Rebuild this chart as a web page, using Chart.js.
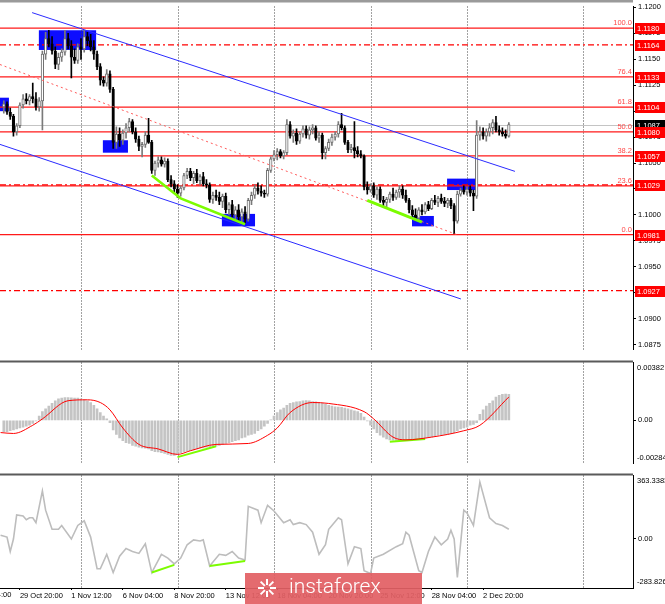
<!DOCTYPE html>
<html>
<head>
<meta charset="utf-8">
<script src="https://cdn.jsdelivr.net/npm/chart.js@4.4.1/dist/chart.umd.min.js"></script>
<style>
  html, body { margin: 0; padding: 0; background: #fff; }
  #wrap { position: relative; width: 665px; height: 604px; overflow: hidden; }
  canvas { position: absolute; left: 0; }
</style>
</head>
<body>
<div id="wrap">
  <canvas id="main" width="665" height="356" style="top:0"></canvas>
  <canvas id="macd" width="665" height="114" style="top:356px"></canvas>
  <canvas id="cci" width="665" height="135" style="top:469px"></canvas>
</div>
<script>
// EURUSD H4, bar 0 .. 157
const OPEN = [
  1.1104,1.1107,1.1099,1.1095,1.1080,1.1086,1.1106,1.1112,1.1110,1.1114,
  1.1112,1.1104,1.1110,1.1155,1.1170,1.1165,1.1158,1.1145,1.1152,1.1157,
  1.1170,1.1163,1.1152,1.1149,1.1162,1.1160,1.1172,1.1168,1.1162,1.1155,
  1.1143,1.1130,1.1127,1.1136,1.1121,1.1070,1.1078,1.1072,1.1079,1.1084,
  1.1090,1.1080,1.1073,1.1066,1.1068,1.1077,1.1070,1.1043,1.1050,1.1053,
  1.1049,1.1052,1.1034,1.1030,1.1025,1.1021,1.1026,1.1038,1.1042,1.1036,
  1.1040,1.1033,1.1037,1.1030,1.1029,1.1015,1.1019,1.1017,1.1013,1.1018,
  1.1005,1.1010,1.1000,1.1005,1.0998,1.1003,1.0996,1.1014,1.1019,1.1026,
  1.1023,1.1021,1.1020,1.1043,1.1054,1.1058,1.1061,1.1057,1.1060,1.1087,
  1.1076,1.1079,1.1071,1.1078,1.1083,1.1077,1.1082,1.1084,1.1074,1.1077,
  1.1060,1.1064,1.1070,1.1075,1.1078,1.1087,1.1084,1.1070,1.1063,1.1065,
  1.1062,1.1059,1.1057,1.1027,1.1024,1.1028,1.1019,1.1025,1.1014,1.1012,
  1.1015,1.1020,1.1017,1.1022,1.1025,1.1019,1.1014,1.1005,1.1000,1.0997,
  1.1005,1.1003,1.1010,1.1006,1.1014,1.1012,1.1016,1.1013,1.1011,1.1014,
  1.1009,1.0994,1.1020,1.1024,1.1022,1.1025,1.1021,1.1018,1.1077,1.1080,
  1.1076,1.1080,1.1084,1.1089,1.1082,1.1080,1.1078,1.1076
];
const HIGH = [
  1.1110,1.1109,1.1103,1.1097,1.1088,1.1108,1.1116,1.1117,1.1116,1.1127,
  1.1118,1.1113,1.1158,1.1176,1.1178,1.1172,1.1162,1.1156,1.1160,1.1178,
  1.1175,1.1168,1.1160,1.1165,1.1170,1.1178,1.1176,1.1174,1.1168,1.1158,
  1.1146,1.1133,1.1140,1.1139,1.1123,1.1085,1.1084,1.1082,1.1088,1.1093,
  1.1092,1.1084,1.1076,1.1070,1.1080,1.1093,1.1072,1.1052,1.1056,1.1056,
  1.1055,1.1054,1.1038,1.1033,1.1029,1.1028,1.1040,1.1045,1.1045,1.1042,
  1.1044,1.1039,1.1041,1.1034,1.1031,1.1022,1.1024,1.1022,1.1020,1.1021,
  1.1012,1.1014,1.1008,1.1010,1.1006,1.1008,1.1016,1.1022,1.1029,1.1031,
  1.1028,1.1024,1.1045,1.1056,1.1062,1.1064,1.1063,1.1062,1.1092,1.1090,
  1.1082,1.1083,1.1080,1.1086,1.1086,1.1085,1.1087,1.1086,1.1080,1.1079,
  1.1066,1.1073,1.1078,1.1080,1.1090,1.1098,1.1086,1.1072,1.1068,1.1090,
  1.1066,1.1062,1.1058,1.1032,1.1030,1.1031,1.1027,1.1027,1.1018,1.1017,
  1.1022,1.1026,1.1024,1.1028,1.1028,1.1024,1.1016,1.1009,1.1006,1.1007,
  1.1010,1.1012,1.1013,1.1016,1.1019,1.1018,1.1020,1.1017,1.1016,1.1016,
  1.1011,1.1023,1.1026,1.1028,1.1027,1.1028,1.1024,1.1091,1.1085,1.1084,
  1.1083,1.1088,1.1092,1.1095,1.1086,1.1084,1.1082,1.1089
];
const LOW = [
  1.1098,1.1097,1.1092,1.1076,1.1077,1.1084,1.1103,1.1107,1.1106,1.1108,
  1.1101,1.1100,1.1082,1.1150,1.1162,1.1155,1.1141,1.1140,1.1148,1.1154,
  1.1160,1.1132,1.1146,1.1146,1.1150,1.1157,1.1163,1.1158,1.1150,1.1140,
  1.1125,1.1124,1.1124,1.1118,1.1064,1.1064,1.1066,1.1068,1.1074,1.1080,
  1.1078,1.1070,1.1062,1.1056,1.1065,1.1069,1.1040,1.1038,1.1046,1.1047,
  1.1046,1.1032,1.1027,1.1022,1.1017,1.1018,1.1024,1.1035,1.1033,1.1030,
  1.1031,1.1029,1.1028,1.1026,1.1012,1.1011,1.1014,1.1010,1.1007,1.1002,
  1.1000,1.0998,1.0996,1.0994,1.0992,1.0992,1.0994,1.1010,1.1016,1.1020,
  1.1018,1.1017,1.1018,1.1041,1.1052,1.1053,1.1055,1.1054,1.1058,1.1074,
  1.1070,1.1068,1.1069,1.1075,1.1074,1.1073,1.1078,1.1072,1.1070,1.1054,
  1.1054,1.1062,1.1067,1.1072,1.1075,1.1082,1.1068,1.1060,1.1060,1.1055,
  1.1056,1.1055,1.1024,1.1020,1.1022,1.1017,1.1015,1.1012,1.1008,1.1007,
  1.1012,1.1014,1.1015,1.1017,1.1016,1.1012,1.1002,1.0998,1.0996,1.0995,
  1.1000,1.1001,1.1004,1.1005,1.1010,1.1008,1.1011,1.1008,1.1007,1.1006,
  1.0982,1.0992,1.1018,1.1020,1.1019,1.1018,1.1004,1.1016,1.1072,1.1073,
  1.1071,1.1076,1.1078,1.1080,1.1077,1.1076,1.1074,1.1075
];
const CLOSE = [
  1.1107,1.1099,1.1095,1.1080,1.1086,1.1106,1.1112,1.1110,1.1114,1.1112,
  1.1104,1.1110,1.1155,1.1170,1.1165,1.1158,1.1145,1.1152,1.1157,1.1170,
  1.1163,1.1152,1.1149,1.1162,1.1160,1.1172,1.1168,1.1162,1.1155,1.1143,
  1.1130,1.1127,1.1136,1.1121,1.1070,1.1078,1.1072,1.1079,1.1084,1.1090,
  1.1080,1.1073,1.1066,1.1068,1.1077,1.1070,1.1043,1.1050,1.1053,1.1049,
  1.1052,1.1034,1.1030,1.1025,1.1021,1.1026,1.1038,1.1042,1.1036,1.1040,
  1.1033,1.1037,1.1030,1.1029,1.1015,1.1019,1.1017,1.1013,1.1018,1.1005,
  1.1010,1.1000,1.1005,1.0998,1.1003,1.0996,1.1014,1.1019,1.1026,1.1023,
  1.1021,1.1020,1.1043,1.1054,1.1058,1.1061,1.1057,1.1060,1.1087,1.1076,
  1.1079,1.1071,1.1078,1.1083,1.1077,1.1082,1.1084,1.1074,1.1077,1.1060,
  1.1064,1.1070,1.1075,1.1078,1.1087,1.1084,1.1070,1.1063,1.1065,1.1062,
  1.1059,1.1057,1.1027,1.1024,1.1028,1.1019,1.1025,1.1014,1.1012,1.1015,
  1.1020,1.1017,1.1022,1.1025,1.1019,1.1014,1.1005,1.1000,1.0997,1.1005,
  1.1003,1.1010,1.1006,1.1014,1.1012,1.1016,1.1013,1.1011,1.1014,1.1009,
  1.0994,1.1020,1.1024,1.1022,1.1025,1.1021,1.1018,1.1077,1.1080,1.1076,
  1.1080,1.1084,1.1089,1.1082,1.1080,1.1078,1.1076,1.1087
];

// MACD histogram, one value per bar
const MACD = [
  -0.00074,-0.00074,-0.00068,-0.00062,-0.00056,-0.00050,-0.00044,-0.00038,-0.00032,-0.00020,
  -0.00002,0.00028,0.00058,0.00076,0.00094,0.00112,0.00130,0.00142,0.00148,0.00150,
  0.00150,0.00149,0.00148,0.00147,0.00142,0.00136,0.00130,0.00118,0.00100,0.00076,
  0.00052,0.00028,0.00010,-0.00014,-0.00062,-0.00092,-0.00116,-0.00134,-0.00146,-0.00152,
  -0.00164,-0.00170,-0.00176,-0.00182,-0.00183,-0.00188,-0.00200,-0.00206,-0.00207,-0.00212,
  -0.00218,-0.00224,-0.00230,-0.00231,-0.00224,-0.00212,-0.00206,-0.00201,-0.00199,-0.00194,
  -0.00188,-0.00183,-0.00181,-0.00177,-0.00175,-0.00171,-0.00169,-0.00164,-0.00158,-0.00152,
  -0.00146,-0.00140,-0.00134,-0.00128,-0.00116,-0.00110,-0.00098,-0.00092,-0.00086,-0.00068,
  -0.00056,-0.00038,-0.00020,0.00004,0.00028,0.00052,0.00070,0.00082,0.00100,0.00112,
  0.00118,0.00123,0.00125,0.00129,0.00131,0.00130,0.00125,0.00123,0.00118,0.00112,
  0.00106,0.00100,0.00094,0.00089,0.00088,0.00087,0.00082,0.00076,0.00070,0.00064,
  0.00058,0.00046,0.00022,-0.00002,-0.00032,-0.00056,-0.00080,-0.00098,-0.00110,-0.00122,
  -0.00128,-0.00130,-0.00131,-0.00130,-0.00128,-0.00129,-0.00127,-0.00125,-0.00122,-0.00121,
  -0.00116,-0.00115,-0.00110,-0.00109,-0.00104,-0.00098,-0.00097,-0.00092,-0.00091,-0.00086,
  -0.00080,-0.00068,-0.00056,-0.00050,-0.00044,-0.00032,-0.00026,-0.00014,0.00040,0.00070,
  0.00094,0.00112,0.00130,0.00154,0.00166,0.00172,0.00173,0.00172
];
// MACD signal line, read at these bars
const SIGNAL_BARS = [-1,3,9,12,20,26,30,33,37,42,48,54,58,66,76,82,85,89,96,101,112,115,121,125,133,143,148,157];
const SIGNAL = [-0.00080,-0.00086,-0.00032,0.00010,0.00130,0.00136,0.00118,0.00070,-0.00050,-0.00158,
  -0.00188,-0.00224,-0.00200,-0.00158,-0.00152,-0.00098,-0.00050,0.00052,0.00118,0.00112,
  0.00058,0.00010,-0.00110,-0.00128,-0.00110,-0.00068,-0.00032,0.00155];

// CCI, read at these bars
const CCI_BARS = [-1,1,2,3,4,6,7,8,9,10,12,13,15,17,18,21,23,25,27,29,30,32,34,36,38,40,42,44,46,49,
  51,53,55,57,59,61,62,64,67,69,71,73,75,76,79,80,82,84,87,89,90,92,94,96,98,100,101,102,104,105,
  107,109,111,112,114,115,118,122,124,125,126,129,130,132,134,136,138,139,140,141,143,144,146,148,151,153,155,157];
const CCI = [20,9,-74,-2,137,131,109,120,120,92,275,164,54,54,76,-2,76,103,9,-173,
  -173,-90,-195,-101,-57,-74,-85,-29,-195,-90,-112,-145,-112,-35,-7,-13,-7,-157,-90,-96,
  -74,-112,-123,186,164,92,192,159,92,109,81,92,81,37,-90,-35,54,76,120,109,
  -145,-46,-57,-184,-201,-112,-90,-46,-29,37,20,-184,-195,-74,9,-35,-2,48,-2,-223,
  164,148,76,325,120,87,76,54];

// levels
const PRICE_TICKS = [1.0875,1.0900,1.0925,1.0950,1.0975,1.1000,1.1025,1.1050,1.1075,1.1100,1.1125,1.1150,1.1175,1.1200];
const FIB_PRICES = [1.1180,1.1133,1.1104,1.1080,1.1057,1.1028,1.0981];
const FIB_LABELS = ['100.0','76.4','61.8','50.0','38.2','23.6','0.0'];
const LEVEL_PRICES = [1.1164,1.1029,1.0927];
const AXIS_BOX_PRICES = [1.1180,1.1164,1.1133,1.1104,1.1080,1.1057,1.1029,1.0981,1.0927];
const LAST_PRICE = 1.1087;

// zones (bar from, bar to, top, bottom)
const ZONE_FROM = [-1.2,10.9,30.8,67.8,126.9,137.8];
const ZONE_TO = [1.6,28.7,38.6,78.1,133.7,146.8];
const ZONE_TOP = [1.1113,1.1178,1.1072,1.1001,1.0999,1.1035];
const ZONE_BOTTOM = [1.1100,1.1159,1.1060,1.0989,1.0989,1.1024];

// trend lines
const CHANNEL_UP = [[8.8,1.1195],[158.9,1.1042]];
const CHANNEL_DOWN = [[-1.2,1.1068],[142.1,1.0919]];
const CHANNEL_MID = [[-1.2,1.1145],[140.9,1.0981]];
const DIV_PRICE_1 = [[46,1.1038],[55,1.1016],[75,1.0991]];
const DIV_PRICE_2 = [[113,1.1014],[130,1.0993]];
const DIV_MACD_1 = [[54,-0.00242],[66,-0.00170]];
const DIV_MACD_2 = [[120,-0.00140],[131,-0.00122]];
const DIV_CCI_1 = [[46,-195],[53,-151]];
const DIV_CCI_2 = [[64,-157],[75,-129]];

// time axis
const GRID_BARS = [24,54,84,114,144,180];
const X_LABEL_BARS = [5,21,37,53,69,85,101,117,133,149];
const X_LABELS = ['29 Oct 20:00','1 Nov 12:00','6 Nov 04:00','8 Nov 20:00','13 Nov 12:00',
  '18 Nov 04:00','20 Nov 20:00','25 Nov 12:00','28 Nov 04:00','2 Dec 20:00'];
const X_LABEL_CUT_BAR = -11;
const X_LABEL_CUT = '25 Oct 04:00';

const FONT = '"Liberation Sans", Arial, sans-serif';
const X_MIN = -1.18, X_MAX = 195.6;
const GREEN = '#7cfc00';

function pts(arr) { return arr.map(p => ({ x: p[0], y: p[1] })); }
function lineSet(arr, color, width, dash) {
  return { type: 'line', data: pts(arr), borderColor: color, borderWidth: width, borderDash: dash || [],
           pointRadius: 0, tension: 0, fill: false };
}
function fixedWidth(s) { s.width = 32; }

function hline(ctx, x0, x1, y) {
  ctx.beginPath(); ctx.moveTo(x0, y); ctx.lineTo(x1, y); ctx.stroke();
}

const decor = {
  id: 'decor',
  beforeDatasetsDraw(chart, args, o) {
    const { ctx, chartArea: a, scales } = chart;
    const x = scales.x, y = scales.y;
    ctx.save();
    if (o.kind === 'main') {
      ctx.fillStyle = 'rgba(0,0,255,0.95)';
      ZONE_FROM.forEach((f, i) => {
        const x0 = x.getPixelForValue(f), x1 = x.getPixelForValue(ZONE_TO[i]);
        const y0 = y.getPixelForValue(ZONE_TOP[i]), y1 = y.getPixelForValue(ZONE_BOTTOM[i]);
        ctx.fillRect(x0, y0, x1 - x0, y1 - y0);
      });
    }
    // weekly grid
    ctx.strokeStyle = '#444';
    ctx.lineWidth = 1;
    ctx.setLineDash([1, 2]);
    GRID_BARS.forEach(b => {
      const px = Math.round(x.getPixelForValue(b)) + 0.5;
      ctx.beginPath(); ctx.moveTo(px, a.top); ctx.lineTo(px, a.bottom); ctx.stroke();
    });
    if (o.kind === 'main') {
      ctx.setLineDash([]);
      ctx.strokeStyle = '#c4c4c4';
      hline(ctx, a.left, a.right, Math.round(y.getPixelForValue(LAST_PRICE)) + 0.5);
      ctx.strokeStyle = '#ff1a1a';
      ctx.lineWidth = 1.3;
      FIB_PRICES.forEach(p => hline(ctx, a.left, a.right, y.getPixelForValue(p)));
      ctx.strokeStyle = '#ff0000';
      ctx.lineWidth = 1.2;
      ctx.setLineDash([6, 3, 2, 3]);
      LEVEL_PRICES.forEach(p => hline(ctx, a.left, a.right, y.getPixelForValue(p)));
    }
    ctx.restore();
  },
  afterDraw(chart, args, o) {
    const { ctx, chartArea: a, scales } = chart;
    const y = scales.y;
    ctx.save();
    ctx.font = '7.5px ' + FONT;
    if (o.kind === 'main') {
      ctx.fillStyle = '#9a9a9a';
      ctx.fillRect(0, 0, a.right, 2.5);
      // fib percentages
      ctx.fillStyle = '#ff4848';
      ctx.textAlign = 'right';
      ctx.textBaseline = 'bottom';
      FIB_PRICES.forEach((p, i) => ctx.fillText(FIB_LABELS[i], a.right - 1, y.getPixelForValue(p) - 1));
      // axis boxes
      ctx.textAlign = 'left';
      ctx.textBaseline = 'middle';
      const box = (p, bg) => {
        const py = Math.round(y.getPixelForValue(p));
        ctx.fillStyle = bg;
        ctx.fillRect(a.right + 2, py - 5, 31, 11);
        ctx.fillStyle = '#fff';
        ctx.fillText(p.toFixed(4), a.right + 4, py + 0.5);
      };
      box(LAST_PRICE, '#000');
      AXIS_BOX_PRICES.forEach(p => box(p, '#ff0000'));
    } else {
      // panel separator
      ctx.fillStyle = '#5a5a5a';
      ctx.fillRect(0, a.top - 2, a.right, 2);
      ctx.fillStyle = '#000';
      ctx.textAlign = 'left';
      ctx.textBaseline = 'middle';
      ctx.fillText(o.topLabel, a.right + 4, a.top + 5);
      ctx.fillText(o.bottomLabel, a.right + 4, a.bottom - 6);
    }
    if (o.kind === 'cci') {
      // label of the bar left of the window, cut by the edge
      ctx.textAlign = 'left';
      ctx.textBaseline = 'top';
      ctx.fillText(X_LABEL_CUT, chart.scales.x.getPixelForValue(X_LABEL_CUT_BAR), a.bottom + 3);
      // watermark
      ctx.fillStyle = 'rgba(226,96,100,0.93)';
      ctx.fillRect(245, 104, 177, 31);
      ctx.strokeStyle = '#fff';
      ctx.lineWidth = 2;
      const cx = 267, cy = 119;
      for (let k = 0; k < 8; k++) {
        const ang = k * Math.PI / 4;
        ctx.beginPath();
        ctx.moveTo(cx + Math.cos(ang) * 3, cy + Math.sin(ang) * 3);
        ctx.lineTo(cx + Math.cos(ang) * 9, cy + Math.sin(ang) * 9);
        ctx.stroke();
      }
      ctx.fillStyle = '#fff';
      ctx.font = '300 21px Roboto, "Open Sans", sans-serif';
      ctx.textAlign = 'left';
      ctx.textBaseline = 'middle';
      ctx.fillText('instaforex', 289, 119);
    }
    ctx.restore();
  }
};

// candles
const wickData = [], bodyData = [], wickColor = [], bodyColor = [], bodyBorder = [];
OPEN.forEach((o, i) => {
  const c = CLOSE[i], up = c >= o;
  wickData.push({ x: i, y: [LOW[i], HIGH[i]] });
  bodyData.push({ x: i, y: [Math.min(o, c), Math.max(o, c)] });
  wickColor.push(up ? '#7a7a7a' : '#000');
  bodyColor.push(up ? '#ffffff' : '#000');
  bodyBorder.push(up ? '#6e6e6e' : '#000');
});

const xHidden = { type: 'linear', min: X_MIN, max: X_MAX, offset: false, display: false };
const yRight = (min, max, ticks, fmt) => ({
  position: 'right', min: min, max: max,
  afterFit: fixedWidth,
  afterBuildTicks: s => { s.ticks = ticks.map(v => ({ value: v })); },
  ticks: { font: { family: FONT, size: 7.5 }, color: '#000', padding: 2, callback: fmt },
  grid: { drawOnChartArea: false, drawTicks: true, tickLength: 3, color: '#000' },
  border: { display: true, color: '#000', width: 1 }
});
const base = {
  responsive: false, animation: false, devicePixelRatio: 1,
  plugins: { legend: { display: false }, tooltip: { enabled: false } }
};

new Chart(document.getElementById('main'), {
  type: 'bar',
  data: {
    datasets: [
      lineSet(DIV_PRICE_1, GREEN, 2.5),
      lineSet(DIV_PRICE_2, GREEN, 3),
      lineSet(CHANNEL_UP, '#2b2bff', 1),
      lineSet(CHANNEL_DOWN, '#2b2bff', 1),
      lineSet(CHANNEL_MID, '#ff5a5a', 1, [2, 3]),
      { data: bodyData, backgroundColor: bodyColor, borderColor: bodyBorder, borderWidth: 1,
        borderSkipped: false, barThickness: 2.6, minBarLength: 1, grouped: false },
      { data: wickData, backgroundColor: wickColor, borderWidth: 0, barThickness: 1, grouped: false }
    ]
  },
  options: Object.assign({}, base, {
    layout: { padding: { top: 3, bottom: 1, left: 0, right: 0 } },
    plugins: Object.assign({}, base.plugins, { decor: { kind: 'main' } }),
    scales: {
      x: xHidden,
      y: yRight(1.08703, 1.12009, PRICE_TICKS, v => v.toFixed(4))
    }
  }),
  plugins: [decor]
});

new Chart(document.getElementById('macd'), {
  type: 'bar',
  data: {
    datasets: [
      { type: 'line', data: SIGNAL_BARS.map((b, i) => ({ x: b, y: SIGNAL[i] })), borderColor: '#ff0000',
        borderWidth: 1, pointRadius: 0, cubicInterpolationMode: 'monotone', fill: false },
      lineSet(DIV_MACD_1, GREEN, 2),
      lineSet(DIV_MACD_2, GREEN, 2),
      { data: MACD.map((v, i) => ({ x: i, y: v })), backgroundColor: '#c4c4c4', barThickness: 2, grouped: false }
    ]
  },
  options: Object.assign({}, base, {
    layout: { padding: { top: 2, bottom: 1, left: 0, right: 0 } },
    plugins: Object.assign({}, base.plugins, { decor: { kind: 'macd', topLabel: '0.00382', bottomLabel: '-0.00284' } }),
    scales: {
      x: xHidden,
      y: yRight(-0.00284, 0.00382, [0], v => v.toFixed(2))
    }
  }),
  plugins: [decor]
});

new Chart(document.getElementById('cci'), {
  type: 'line',
  data: {
    datasets: [
      lineSet(DIV_CCI_1, GREEN, 2),
      lineSet(DIV_CCI_2, GREEN, 2),
      { data: CCI_BARS.map((b, i) => ({ x: b, y: CCI[i] })), borderColor: '#bdbdbd', borderWidth: 1.6,
        pointRadius: 0, tension: 0, fill: false }
    ]
  },
  options: Object.assign({}, base, {
    layout: { padding: { top: 2, bottom: 0, left: 0, right: 0 } },
    plugins: Object.assign({}, base.plugins, { decor: { kind: 'cci', topLabel: '363.3383', bottomLabel: '-283.826' } }),
    scales: {
      x: {
        type: 'linear', min: X_MIN, max: X_MAX, offset: false,
        afterBuildTicks: s => { s.ticks = X_LABEL_BARS.map(v => ({ value: v })); },
        afterFit: s => { s.height = 16; },
        ticks: { autoSkip: false, maxRotation: 0, align: 'start', padding: 1, color: '#000',
                 font: { family: FONT, size: 7.5 }, callback: (v, i) => X_LABELS[i] },
        grid: { drawOnChartArea: false, drawTicks: true, tickLength: 2, color: '#000' },
        border: { display: true, color: '#000', width: 1 }
      },
      y: yRight(-283.826, 363.3383, [0], v => v.toFixed(2))
    }
  }),
  plugins: [decor]
});
</script>
</body>
</html>
